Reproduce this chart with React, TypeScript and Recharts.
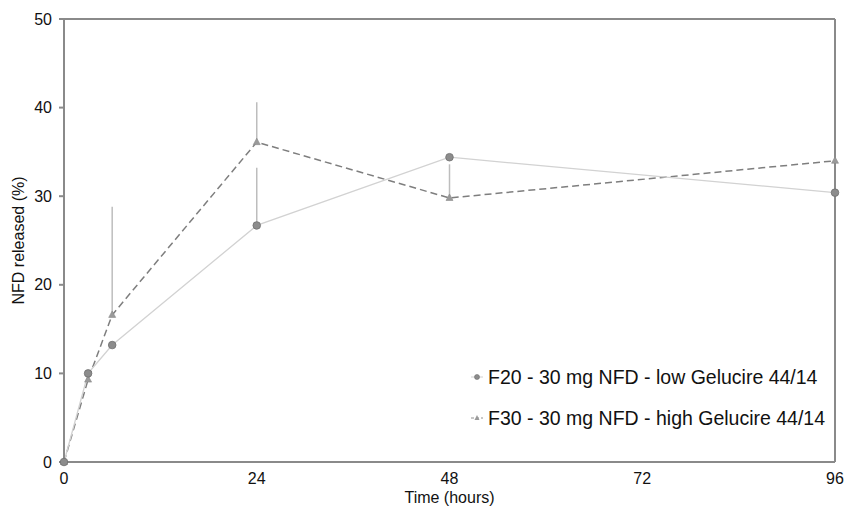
import * as React from "react";
import {
  ErrorBar,
  Label,
  Line,
  LineChart,
  ReferenceLine,
  XAxis,
  YAxis,
} from "recharts";

// sampling times (hours)
const times = [0, 3, 6, 24, 48, 96];
// F20 - low Gelucire
const f20 = [0, 10.0, 13.2, 26.7, 34.4, 30.4];
const f20Err = [0, 0, 0, 6.5, 0, 0];
// F30 - high Gelucire
const f30 = [0, 9.3, 16.6, 36.1, 29.8, 34.0];
const f30Err = [0, 0, 12.2, 4.5, 3.8, 0];

const xTicks = [0, 24, 48, 72, 96];
const yTicks = [0, 10, 20, 30, 40, 50];

const f20Name = "F20 - 30 mg NFD - low Gelucire 44/14";
const f30Name = "F30 - 30 mg NFD - high Gelucire 44/14";

const data = times.map((t, i) => ({
  t,
  f20: f20[i],
  f20e: [0, f20Err[i]],
  f30: f30[i],
  f30e: [0, f30Err[i]],
}));

const FONT = "'Liberation Sans', Arial, sans-serif";
const AXIS = "#8a8a8a";

const Triangle = (props: any) => {
  const { cx, cy } = props;
  if (cx == null || cy == null) return null;
  return (
    <path
      d={`M${cx},${cy - 4} L${cx + 3.5},${cy + 2.5} L${cx - 3.5},${cy + 2.5} Z`}
      fill="#9a9a9a"
      stroke="#8a8a8a"
      strokeWidth={0.6}
    />
  );
};

// legend sits inside the plot, lower right
const LegendBox = () => (
  <div
    style={{
      position: "absolute",
      left: 470,
      top: 365,
      fontFamily: FONT,
      fontSize: 19.5,
      color: "#111",
      whiteSpace: "nowrap",
    }}
  >
    <div style={{ display: "flex", alignItems: "center", height: 24 }}>
      <svg width={14} height={10} style={{ marginRight: 4 }}>
        <line x1={1} y1={5} x2={13} y2={5} stroke="#d0d0d0" strokeWidth={1} />
        <circle cx={7} cy={5} r={2.5} fill="#8c8c8c" stroke="#707070" strokeWidth={0.6} />
      </svg>
      {f20Name}
    </div>
    <div style={{ display: "flex", alignItems: "center", height: 24, marginTop: 17 }}>
      <svg width={14} height={10} style={{ marginRight: 4 }}>
        <line x1={1} y1={5} x2={13} y2={5} stroke="#909090" strokeWidth={1} strokeDasharray="3 2" />
        <path d="M7,2 L9.5,7 L4.5,7 Z" fill="#9a9a9a" />
      </svg>
      {f30Name}
    </div>
  </div>
);

export default function App() {
  return (
    <div style={{ position: "absolute", left: 0, top: 0, width: 847, height: 506, background: "#fff" }}>
      <LineChart
        width={847}
        height={506}
        data={data}
        margin={{ top: 19, right: 12, left: 0, bottom: 0 }}
      >
        <XAxis
          dataKey="t"
          type="number"
          domain={[0, 96]}
          ticks={xTicks}
          tickLine={false}
          tickSize={0}
          tickMargin={11}
          height={44}
          stroke={AXIS}
          strokeWidth={2}
          tick={{ fill: "#111", fontSize: 16, fontFamily: FONT }}
        >
          <Label
            value="Time (hours)"
            position="insideBottom"
            offset={3}
            style={{ fill: "#111", fontSize: 16, fontFamily: FONT }}
          />
        </XAxis>
        <YAxis
          type="number"
          domain={[0, 50]}
          ticks={yTicks}
          width={64}
          tickSize={5}
          tickMargin={7}
          stroke={AXIS}
          strokeWidth={2}
          tick={{ fill: "#111", fontSize: 16, fontFamily: FONT }}
        >
          <Label
            value="NFD released (%)"
            angle={-90}
            position="insideLeft"
            offset={18}
            style={{ fill: "#111", fontSize: 16, fontFamily: FONT, textAnchor: "middle" }}
          />
        </YAxis>
        <ReferenceLine y={50} stroke={AXIS} strokeWidth={2} />
        <ReferenceLine x={96} stroke={AXIS} strokeWidth={2} />
        <Line
          dataKey="f30"
          name={f30Name}
          stroke="#7e7e7e"
          strokeWidth={1.5}
          strokeDasharray="7 4"
          dot={<Triangle />}
          isAnimationActive={false}
        >
          <ErrorBar dataKey="f30e" width={0} stroke="#bdbdbd" strokeWidth={1.5} direction="y" />
        </Line>
        <Line
          dataKey="f20"
          name={f20Name}
          stroke="#d2d2d2"
          strokeWidth={1.3}
          dot={{ r: 3.8, fill: "#8c8c8c", stroke: "#6e6e6e", strokeWidth: 0.8 }}
          isAnimationActive={false}
        >
          <ErrorBar dataKey="f20e" width={0} stroke="#bdbdbd" strokeWidth={1.5} direction="y" />
        </Line>
      </LineChart>
      <LegendBox />
    </div>
  );
}
